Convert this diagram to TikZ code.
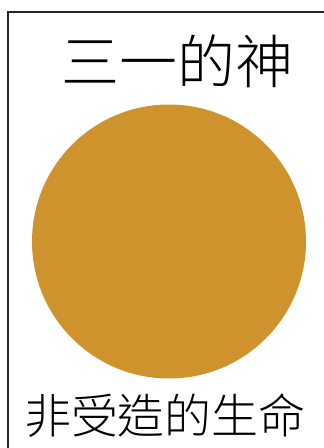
\documentclass[tikz,border=0pt]{standalone}
\usepackage{fontspec}
\newfontfamily\cjk[UprightFont={* Light}]{Noto Sans CJK TC}
\definecolor{gold}{RGB}{207,147,46}
\begin{document}
\begin{tikzpicture}[x=1pt,y=-1pt,
  title/.style={font=\cjk\fontsize{58}{60}\selectfont, inner sep=0pt, anchor=center},
  label/.style={font=\cjk\fontsize{47}{50}\selectfont, inner sep=0pt, anchor=center}]
\useasboundingbox (0,0) rectangle (324,448);
\coordinate (bl) at (8,448);
\coordinate (tl) at (8,12);
\coordinate (tr) at (324,12);
\draw[line width=1.5pt, black!85] (bl) -- (tl) -- (tr);
\fill[gold] (169,241.5) circle (137);
\node[title] (t) at (177.5,61) {三一的神};
\node[label] (b) at (165,416) {非受造的生命};
\end{tikzpicture}
\end{document}
